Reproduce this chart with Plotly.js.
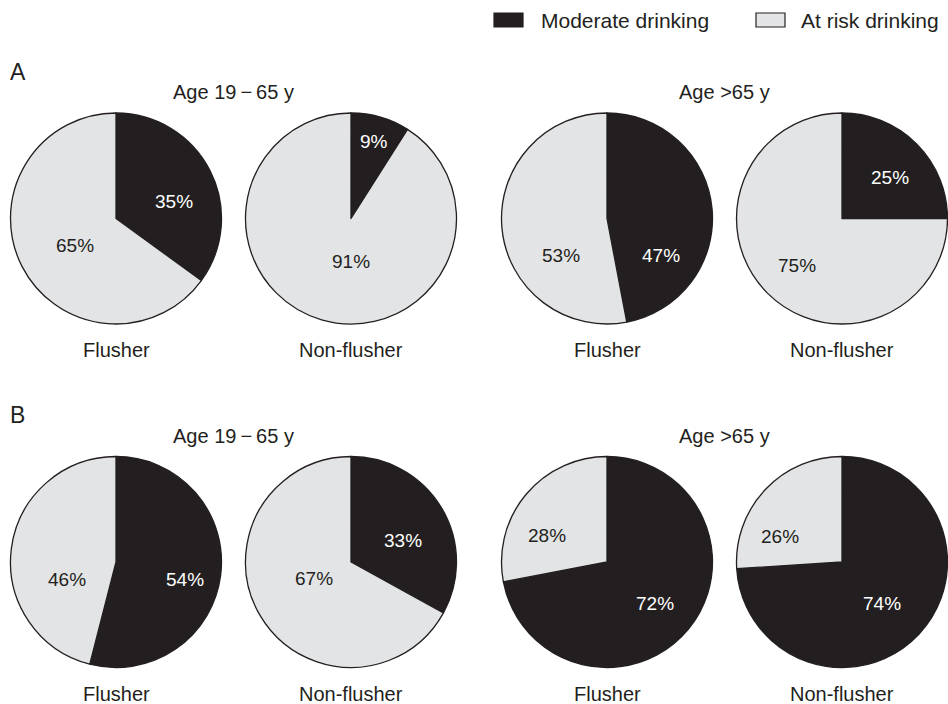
<!DOCTYPE html>
<html>
<head>
<meta charset="utf-8">
<script src="https://cdn.plot.ly/plotly-3.0.1.min.js"></script>
<style>
  html, body { margin: 0; padding: 0; background: #ffffff; }
  #chart { width: 948px; height: 704px; }
</style>
</head>
<body>
<div id="chart"></div>
<script>
// Drinking pattern by flushing response, two age groups, two panels
const seriesNames = ['Moderate drinking', 'At risk drinking'];
const ageGroups = ['Age 19\u2009\u2212\u200965 y', 'Age >65 y'];
const categories = ['Flusher', 'Non-flusher', 'Flusher', 'Non-flusher'];
const panelLetters = ['A', 'B'];

// order: 19-65 flusher, 19-65 non-flusher, >65 flusher, >65 non-flusher
const panelAModerate = [35, 9, 47, 25];
const panelAAtRisk   = [65, 91, 53, 75];
const panelBModerate = [54, 33, 72, 74];
const panelBAtRisk   = [46, 67, 28, 26];

const W = 948, H = 704;
const DARK = '#231f20';
const LIGHT = '#e3e4e6';
const FONT = '"Liberation Sans", Arial, Helvetica, sans-serif';

// pie geometry in pixels
const pieCX = [116, 351, 607, 842];
const rowCY = [218.5, 562];
const R = 105.5;

// label offsets from the pie centre (px): [moderate, at risk]
const labelOffsets = [
  [[[58, -17], [-41, 27]], [[23, -77], [0, 43]], [[54, 37], [-46, 37]], [[48, -41], [-45, 47]]],
  [[[69, 17], [-49, 17]], [[52, -22], [-37, 16]], [[48, 41], [-60, -27]], [[40, 41], [-62, -26]]]
];

const px = x => x / W;
const py = y => 1 - y / H;

const panels = [[panelAModerate, panelAAtRisk], [panelBModerate, panelBAtRisk]];
const traces = [];
const annotations = [];
const shapes = [];

panels.forEach((pair, row) => {
  const [moderate, atRisk] = pair;
  const cy = rowCY[row];
  moderate.forEach((m, i) => {
    const cx = pieCX[i];
    traces.push({
      type: 'pie',
      values: [m, atRisk[i]],
      labels: seriesNames,
      sort: false,
      direction: 'clockwise',
      rotation: 0,
      textinfo: 'none',
      hoverinfo: 'label+percent',
      showlegend: false,
      marker: { colors: [DARK, LIGHT], line: { color: DARK, width: 1.3 } },
      domain: { x: [px(cx - R), px(cx + R)], y: [py(cy + R), py(cy - R)] }
    });
    // percentage labels
    const vals = [m, atRisk[i]];
    vals.forEach((v, k) => {
      const off = labelOffsets[row][i][k];
      annotations.push({
        text: v + '%', showarrow: false, xref: 'paper', yref: 'paper',
        x: px(cx + off[0]), y: py(cy + off[1]), xanchor: 'center', yanchor: 'middle',
        font: { family: FONT, size: 19, color: k === 0 ? '#ffffff' : DARK }
      });
    });
    // category label under each pie
    annotations.push({
      text: categories[i], showarrow: false, xref: 'paper', yref: 'paper',
      x: px(cx), y: py(cy + 132), xanchor: 'center', yanchor: 'middle',
      font: { family: FONT, size: 20, color: DARK }
    });
  });
  // age group headings
  ageGroups.forEach((g, j) => {
    annotations.push({
      text: g, showarrow: false, xref: 'paper', yref: 'paper',
      x: px((pieCX[2 * j] + pieCX[2 * j + 1]) / 2), y: py(cy - 126),
      xanchor: 'center', yanchor: 'middle',
      font: { family: FONT, size: 20, color: DARK }
    });
  });
  // panel letter
  annotations.push({
    text: panelLetters[row], showarrow: false, xref: 'paper', yref: 'paper',
    x: px(8), y: py(cy - 147), xanchor: 'left', yanchor: 'middle',
    font: { family: FONT, size: 23, color: DARK }
  });
});

// legend keys
const legendItems = [
  { x0: 494, text: seriesNames[0], fill: DARK, tx: 539 },
  { x0: 756, text: seriesNames[1], fill: LIGHT, tx: 799 }
];
legendItems.forEach(it => {
  shapes.push({
    type: 'rect', xref: 'paper', yref: 'paper',
    x0: px(it.x0), x1: px(it.x0 + 29), y0: py(27), y1: py(13),
    fillcolor: it.fill, line: { color: DARK, width: 1.2 }
  });
  annotations.push({
    text: it.text, showarrow: false, xref: 'paper', yref: 'paper',
    x: px(it.tx), y: py(20), xanchor: 'left', yanchor: 'middle',
    font: { family: FONT, size: 21, color: DARK }
  });
});

const layout = {
  width: W, height: H,
  margin: { l: 0, r: 0, t: 0, b: 0 },
  paper_bgcolor: '#ffffff',
  plot_bgcolor: '#ffffff',
  showlegend: false,
  annotations: annotations,
  shapes: shapes
};

Plotly.newPlot('chart', traces, layout, { displayModeBar: false, staticPlot: true });
</script>
</body>
</html>
